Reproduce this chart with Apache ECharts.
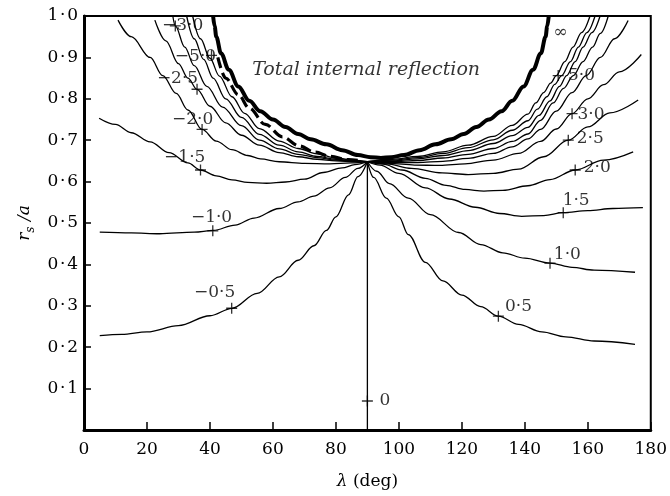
<!DOCTYPE html>
<html>
<head>
<meta charset="utf-8">
<script src="https://cdn.jsdelivr.net/npm/echarts@6/dist/echarts.min.js"></script>
<style>
  html, body { margin: 0; padding: 0; background: #fff; }
  #chart { width: 670px; height: 496px; }
</style>
</head>
<body>
<div id="chart"></div>
<script>
// curves: [lambda (deg), r_s/a]
const curveM05 = [[5,0.228],[12,0.231],[20,0.237],[30,0.252],[40,0.276],[47,0.294],[55,0.33],[62,0.37],[68,0.41],[73,0.445],[77,0.482],[80,0.515],[84,0.568],[87,0.612],[90,0.648]];
const curveM10 = [[5,0.478],[15,0.476],[24,0.474],[35,0.478],[41,0.482],[48,0.495],[54,0.512],[62,0.535],[68,0.551],[73,0.565],[78,0.585],[83,0.61],[87,0.632],[90,0.648]];
const curveM15 = [[4.8,0.753],[10,0.738],[15,0.718],[21,0.696],[27,0.67],[33,0.645],[37,0.628],[42,0.614],[47,0.604],[52,0.598],[58,0.596],[64,0.599],[70,0.606],[76,0.622],[82,0.633],[86,0.641],[90,0.648]];
const curveM20 = [[10.8,0.99],[15,0.95],[21,0.9],[25,0.856],[29.3,0.813],[33,0.773],[37.5,0.726],[42,0.698],[47,0.677],[52,0.663],[56,0.655],[62,0.648],[70,0.644],[78,0.643],[85,0.645],[90,0.648]];
const curveM25 = [[22.5,0.99],[26,0.94],[30,0.885],[33,0.85],[35.9,0.823],[40,0.782],[45,0.742],[50,0.712],[55.7,0.688],[62,0.67],[68,0.66],[74,0.654],[80,0.65],[86,0.648],[90,0.648]];
const curveM30 = [[28.2,1.0],[29,0.976],[32,0.925],[35,0.88],[39,0.83],[44,0.78],[50,0.735],[55.7,0.7],[62,0.679],[68,0.666],[74,0.658],[80,0.652],[86,0.649],[90,0.648]];
const curveM40 = [[32.6,1.0],[35,0.945],[38,0.895],[41,0.85],[45,0.8],[50,0.755],[55.7,0.714],[62,0.688],[68,0.672],[74,0.661],[80,0.654],[86,0.65],[90,0.648]];
const curveM50 = [[34.5,1.0],[37,0.945],[40,0.898],[43,0.855],[47,0.805],[51,0.765],[55.7,0.728],[62,0.698],[68,0.68],[74,0.667],[80,0.657],[86,0.651],[90,0.648]];
const curveDashed = [[42.5,0.9],[45,0.85],[49,0.81],[52.5,0.777],[57.6,0.738],[63,0.708],[68.4,0.686],[73.4,0.671],[78,0.661],[84,0.653],[88,0.65]];

const curveP05 = [[90,0.648],[92,0.61],[96,0.56],[100,0.515],[103,0.472],[108.4,0.405],[114,0.36],[120,0.326],[126,0.298],[131.6,0.275],[138,0.255],[145.4,0.237],[153,0.225],[162,0.215],[175,0.207]];
const curveP10 = [[90,0.648],[93,0.625],[97,0.595],[103,0.56],[110,0.52],[119,0.477],[126,0.448],[133,0.428],[140,0.415],[148,0.403],[155,0.393],[162,0.386],[175,0.381]];
const curveP15 = [[90,0.648],[94,0.64],[100,0.62],[108.4,0.585],[116,0.558],[124.3,0.538],[132,0.523],[139,0.516],[146,0.518],[152.2,0.525],[160,0.53],[168,0.535],[177.5,0.537]];
const curveP20 = [[90,0.648],[95,0.642],[101,0.628],[108.4,0.608],[115,0.591],[121,0.581],[127,0.577],[133,0.579],[141,0.59],[148,0.605],[156,0.628],[165,0.652],[174.4,0.672]];
const curveP25 = [[90,0.648],[96,0.643],[104,0.632],[113.7,0.621],[122,0.617],[130,0.62],[138,0.63],[146,0.66],[153.8,0.7],[160,0.732],[167,0.766],[176,0.797]];
const curveP30 = [[90,0.648],[97,0.644],[105,0.64],[113,0.639],[121,0.643],[130,0.652],[138,0.668],[145,0.697],[150,0.727],[155,0.764],[160,0.8],[165,0.834],[170,0.865],[177,0.907]];
const curveP40 = [[90,0.648],[98,0.646],[106,0.646],[114,0.649],[122,0.656],[130,0.668],[136,0.684],[141,0.703],[145,0.726],[150,0.77],[155,0.815],[159.5,0.856],[164,0.9],[168.5,0.945],[172.8,0.989]];
const curveP50a = [[90,0.648],[98,0.648],[106,0.651],[114,0.657],[122,0.666],[130,0.68],[136,0.697],[141,0.715],[145,0.748],[149,0.79],[152.3,0.825],[155.4,0.856],[158.5,0.89],[161.5,0.925],[164,0.958],[166.5,1.0]];
const curveP50b = [[90,0.648],[98,0.65],[106,0.655],[114,0.663],[122,0.675],[130,0.692],[136,0.711],[141,0.731],[144.5,0.76],[148,0.795],[151,0.83],[153.3,0.856],[156,0.89],[158.5,0.925],[161.3,0.96],[163.9,1.0]];
const curveP50c = [[90,0.648],[98,0.652],[106,0.658],[114,0.668],[122,0.682],[130,0.701],[136,0.724],[141,0.747],[144,0.775],[147,0.805],[149.5,0.835],[151.7,0.856],[154.5,0.89],[157,0.925],[159.7,0.96],[162.3,1.0]];
const curveP50d = [[90,0.648],[98,0.654],[106,0.661],[114,0.672],[122,0.688],[130,0.709],[136,0.736],[141,0.763],[143.5,0.79],[146,0.815],[148.2,0.838],[150,0.856],[152.7,0.89],[155.3,0.925],[158,0.96],[160.7,1.0]];
const curveZero = [[90,0.648],[90,0]];

// total internal reflection boundary (infinity curve)
const curveTIR = [[41,1.0],[41.5,0.975],[42,0.95],[43.5,0.91],[46,0.87],[49,0.83],[52.5,0.795],[56,0.77],[60,0.75],[64,0.732],[68,0.715],[72,0.702],[77,0.69],[82,0.676],[87,0.664],[91,0.659],[94.3,0.657],[97.6,0.659],[101.6,0.664],[106.6,0.676],[111.6,0.69],[116.6,0.702],[120.6,0.715],[124.6,0.732],[128.6,0.75],[132.6,0.77],[136,0.795],[139.6,0.83],[142.6,0.87],[145.1,0.91],[146.6,0.95],[147.1,0.975],[147.6,1.0]];

// "+" markers on the curves
const markerLambda = [46.9, 40.9, 37, 37.5, 35.9, 40.5, 29, 90, 131.6, 148, 152.2, 156, 153.8, 155, 150.6];
const markerR      = [0.294, 0.481, 0.628, 0.726, 0.823, 0.905, 0.976, 0.07, 0.275, 0.403, 0.525, 0.628, 0.7, 0.764, 0.856];

// curve labels
const labelText   = ['−0·5', '−1·0', '−1·5', '−2·0', '−2·5', '−5·0', '−3·0', '0', '0·5', '1·0', '1·5', '2·0', '2·5', '3·0', '5·0', '∞'];
const labelLambda = [41.5, 40.5, 32, 34.5, 29.7, 35.4, 31.3, 95.6, 138, 153.5, 156.3, 163, 160.8, 161, 158, 151.3];
const labelR      = [0.333, 0.514, 0.659, 0.749, 0.848, 0.901, 0.978, 0.07, 0.297, 0.423, 0.553, 0.635, 0.705, 0.761, 0.857, 0.959];

const regionText = 'Total internal reflection';
const regionPos = [89.6, 0.87];

const xTicks = [0, 20, 40, 60, 80, 100, 120, 140, 160, 180];
const yTickLabels = ['', '0\u200A·\u200A1', '0\u200A·\u200A2', '0\u200A·\u200A3', '0\u200A·\u200A4', '0\u200A·\u200A5',
  '0\u200A·\u200A6', '0\u200A·\u200A7', '0\u200A·\u200A8', '0\u200A·\u200A9', '1\u200A·\u200A0'];

const FONT = 'DejaVu Serif';

const thinCurves = [curveM05, curveM10, curveM15, curveM20, curveM25, curveM30, curveM40, curveM50,
  curveP05, curveP10, curveP15, curveP20, curveP25, curveP30, curveP40, curveP50a, curveP50b, curveP50c, curveP50d, curveZero];

function lineSeries(data, width, type) {
  return {
    type: 'line',
    data: data,
    smooth: 0.35,
    smoothMonotone: 'x',
    symbol: 'none',
    showSymbol: false,
    silent: true,
    lineStyle: { color: '#000', width: width, type: type || 'solid' },
    z: 2
  };
}

const series = thinCurves.map(c => lineSeries(c, 1.3));
series.push(lineSeries(curveTIR, 4));
series.push(lineSeries(curveDashed, 3.2, [11, 5]));

series.push({
  type: 'scatter',
  data: markerLambda.map((l, i) => [l, markerR[i]]),
  symbol: 'path://M-0.6,-5H0.6V-0.6H5V0.6H0.6V5H-0.6V0.6H-5V-0.6H-0.6Z',
  symbolSize: 11,
  itemStyle: { color: '#000' },
  silent: true,
  z: 3
});

series.push({
  type: 'scatter',
  data: labelLambda.map((l, i) => [l, labelR[i], labelText[i]]),
  symbolSize: 1,
  itemStyle: { color: 'rgba(0,0,0,0)' },
  silent: true,
  label: {
    show: true,
    position: 'inside',
    formatter: p => p.data[2],
    fontFamily: FONT,
    fontSize: 17,
    color: '#000'
  },
  z: 4
});

series.push({
  type: 'scatter',
  data: [[regionPos[0], regionPos[1], regionText]],
  symbolSize: 1,
  itemStyle: { color: 'rgba(0,0,0,0)' },
  silent: true,
  label: {
    show: true,
    position: 'inside',
    formatter: p => p.data[2],
    fontFamily: FONT,
    fontStyle: 'italic',
    fontSize: 19,
    color: '#000'
  },
  z: 4
});

const chart = echarts.init(document.getElementById('chart'), null, { renderer: 'canvas' });
chart.setOption({
  animation: false,
  backgroundColor: '#fff',
  grid: { left: 84, right: 17, top: 16, bottom: 66, show: true, borderColor: '#000', borderWidth: 2, backgroundColor: 'transparent' },
  xAxis: {
    type: 'value',
    min: xTicks[0],
    max: xTicks[xTicks.length - 1],
    interval: 20,
    name: '{i|λ} (deg)',
    nameLocation: 'middle',
    nameGap: 43,
    nameTextStyle: {
      fontFamily: FONT, fontSize: 17, color: '#000',
      rich: { i: { fontFamily: FONT, fontSize: 17, fontStyle: 'italic', color: '#000' } }
    },
    axisLine: { show: true, lineStyle: { color: '#000', width: 3 } },
    axisTick: { show: true, inside: true, length: 8, lineStyle: { color: '#000', width: 1.5 } },
    axisLabel: { fontFamily: FONT, fontSize: 17, color: '#000', margin: 11 },
    splitLine: { show: false }
  },
  yAxis: {
    type: 'value',
    min: 0,
    max: 1,
    interval: 0.1,
    name: '{i|r}{s|s}{i| /a}',
    nameLocation: 'middle',
    nameGap: 37,
    nameTextStyle: {
      fontFamily: FONT, fontSize: 17, color: '#000',
      rich: {
        i: { fontFamily: FONT, fontSize: 17, fontStyle: 'italic', color: '#000', verticalAlign: 'bottom', padding: [0, 0, 4, 0] },
        s: { fontFamily: FONT, fontSize: 12, fontStyle: 'italic', color: '#000', verticalAlign: 'bottom' }
      }
    },
    axisLine: { show: true, lineStyle: { color: '#000', width: 3 } },
    axisTick: { show: true, inside: true, length: 7, lineStyle: { color: '#000', width: 1.5 } },
    axisLabel: {
      fontFamily: FONT, fontSize: 17, color: '#000', margin: 6,
      formatter: v => yTickLabels[Math.round(v * 10)]
    },
    splitLine: { show: false }
  },
  series: series
});
</script>
</body>
</html>
